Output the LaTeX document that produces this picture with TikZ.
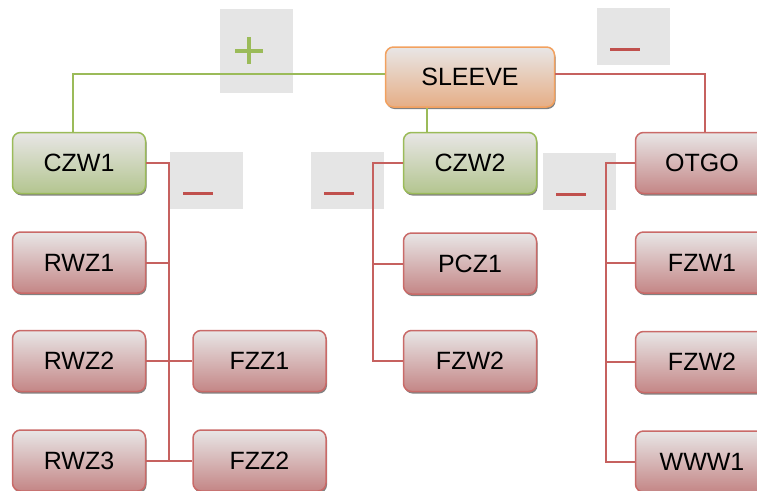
\documentclass[tikz,border=0pt]{standalone}
\usepackage{fontspec}
\setmainfont{Liberation Sans}
\usetikzlibrary{calc, positioning, shadows}

\definecolor{grnline}{HTML}{9BBB59}
\definecolor{grnfill}{HTML}{B3C58F}
\definecolor{redline}{HTML}{C0504D}
\definecolor{redfill}{HTML}{C48686}
\definecolor{orgline}{HTML}{F2A15F}
\definecolor{orgfill}{HTML}{E6AE86}
\definecolor{topfill}{HTML}{E8E6E6}
\definecolor{boxgray}{HTML}{E5E5E5}

\begin{document}
\begin{tikzpicture}[x=1pt, y=-1pt, font=\fontsize{25}{30}\selectfont,
  item/.style={draw, line width=1.5pt, rounded corners=8pt, minimum width=133pt,
               minimum height=61pt, inner sep=0pt, top color=topfill,
               drop shadow={shadow xshift=1pt, shadow yshift=-2pt, fill=black!70, opacity=.7}},
  leaf/.style={item, draw=redline!85, bottom color=redfill},
  good/.style={item, draw=grnline, bottom color=grnfill},
  root/.style={item, draw=orgline, bottom color=orgfill, minimum width=169pt, minimum height=60pt},
  signbox/.style={fill=boxgray, inner sep=0pt, minimum width=73pt, minimum height=57pt},
  gline/.style={draw=grnline, line width=2pt},
  rline/.style={draw=redline!90, line width=2pt},
  bar/.style={line width=3.5pt}]

\useasboundingbox (0,0) rectangle (757,490);
\clip (0,0) rectangle (757,490);

% --- sign boxes
\node[signbox, minimum height=84pt] (plus) at (256.5,51) {};
\node[signbox] (minus0) at (633.5,36.5) {};
\node[signbox] (minus1) at (206.5,180.5) {};
\node[signbox] (minus2) at (347.5,180.5) {};
\node[signbox] (minus3) at (579.5,181.5) {};

% --- root
\node[root] (sleeve) at (470,77) {SLEEVE};

% --- left branch
\node[good] (czw1) at (79,163) {CZW1};
\node[leaf, below=37pt of czw1] (rwz1) {RWZ1};
\node[leaf, below=36pt of rwz1] (rwz2) {RWZ2};
\node[leaf, below=37pt of rwz2] (rwz3) {RWZ3};
\node[leaf, right=46pt of rwz2] (fzz1) {FZZ1};
\node[leaf, right=46pt of rwz3] (fzz2) {FZZ2};

% --- middle branch
\node[good] (czw2) at (470,163) {CZW2};
\node[leaf, below=38pt of czw2] (pcz1) {PCZ1};
\node[leaf, below=35pt of pcz1] (fzw2a) {FZW2};

% --- right branch
\node[leaf] (otgo) at (702,163) {OTGO};
\node[leaf, below=37pt of otgo] (fzw1) {FZW1};
\node[leaf, below=37pt of fzw1] (fzw2b) {FZW2};
\node[leaf, below=37pt of fzw2b] (www1) {WWW1};

% --- joints
\coordinate[right=23pt of czw1.east] (j1);
\coordinate[left=30pt of czw2.west] (j2);
\coordinate[left=29pt of otgo.west] (j3);

% --- connectors
\draw[gline] ([yshift=3pt]sleeve.west) -| ([xshift=-6pt]czw1.north);
\draw[gline] ([xshift=-43pt]sleeve.south) -- ([xshift=-43pt]czw2.north);
\draw[rline] ([yshift=3pt]sleeve.east) -| ([xshift=3pt]otgo.north);

\draw[rline] (czw1.east) -| (j1 |- rwz3.east);
\draw[rline] (rwz1.east) -- (j1 |- rwz1.east);
\draw[rline] (rwz2.east) -- (fzz1.west);
\draw[rline] (rwz3.east) -- (fzz2.west);

\draw[rline] (czw2.west) -| (j2 |- fzw2a.west) -- (fzw2a.west);
\draw[rline] (pcz1.west) -- (j2 |- pcz1.west);

\draw[rline] (otgo.west) -| (j3 |- www1.west) -- (www1.west);
\foreach \n in {fzw1, fzw2b}
  \draw[rline] (\n.west) -- (j3 |- \n.west);

% --- signs
\draw[bar, line width=4.5pt, grnline] ($(plus)+(-21.5,0)$) -- ++(28,0);
\draw[bar, line width=4.5pt, grnline] ($(plus)+(-7.5,-14)$) -- ++(0,27);
\foreach \m in {minus0, minus1, minus2, minus3}
  \draw[bar, redline] ($(\m)+(-23.5,13)$) -- ++(30,0);
\end{tikzpicture}
\end{document}
